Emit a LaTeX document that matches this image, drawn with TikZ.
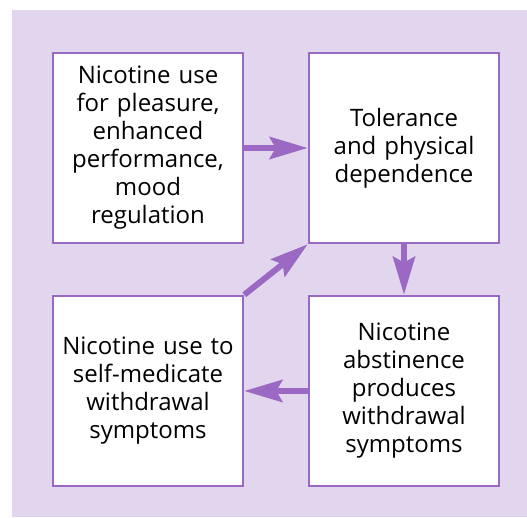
\documentclass[tikz,border=0pt]{standalone}
\usepackage{fontspec}
\setmainfont{Open Sans}
\usetikzlibrary{arrows.meta,positioning}
\definecolor{cyclepurple}{RGB}{155,104,196}
\definecolor{cyclebg}{RGB}{226,213,238}
\tikzset{
    stagebox/.style={rectangle, draw=cyclepurple, fill=white, line width=2.5pt, minimum width=190pt, minimum height=190pt, text width=185pt, inner sep=0pt, align=center, font=\fontsize{24}{28}\selectfont},
    cyclearrow/.style={-{Stealth[length=38pt,width=22pt,inset=6pt]}, draw=cyclepurple, line width=6pt},
}

\begin{document}
\begin{tikzpicture}[x=1pt, y=1pt, node distance=50.5pt and 63.5pt]
\fill[cyclebg] (12,0) rectangle (527,507);
\useasboundingbox (0,0) rectangle (527,517);

\node[stagebox] (pleasure) at (148,369) {Nicotine use\\for pleasure,\\enhanced\\performance,\\mood\\regulation};
\node[stagebox, right=of pleasure] (tolerance) {Tolerance\\and physical\\dependence};
\node[stagebox, below=of tolerance] (abstinence) {Nicotine\\abstinence\\produces\\withdrawal\\symptoms};
\node[stagebox, below=of pleasure] (selfmed) {Nicotine use to\\self-medicate\\withdrawal\\symptoms};

\draw[cyclearrow] (pleasure.east) -- (tolerance.west);
\draw[cyclearrow] (tolerance.south) -- (abstinence.north);
\draw[cyclearrow] (abstinence.west) -- (selfmed.east);
\draw[cyclearrow] (selfmed.north east) -- (tolerance.south west);

\end{tikzpicture}
\end{document}
